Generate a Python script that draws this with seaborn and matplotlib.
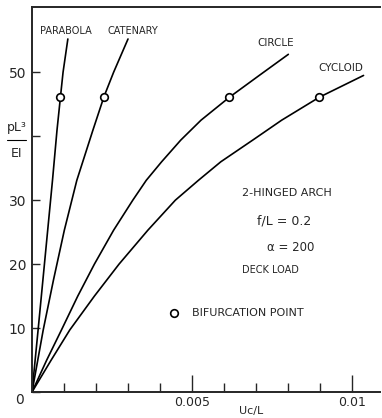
import matplotlib
matplotlib.use("Agg")
import matplotlib.pyplot as plt
import seaborn as sns
import pandas as pd
from matplotlib.ticker import MultipleLocator

# curves: (Uc/L, pL^3/EI)
parabola_x = [0, 0.00019, 0.00034, 0.00049, 0.00064, 0.00078, 0.00089, 0.00097, 0.00112]
parabola_y = [0, 9.7, 17.5, 25.3, 33.1, 40.9, 46.2, 50, 55.2]

catenary_x = [0, 0.00035, 0.00067, 0.00101, 0.0014, 0.0019, 0.00225, 0.00255, 0.003]
catenary_y = [0, 9.7, 17.5, 25.3, 33.1, 40.9, 46.2, 50, 55.2]

circle_x = [0, 0.00046, 0.00092, 0.00143, 0.00195, 0.00255, 0.00315, 0.00357,
            0.00405, 0.00465, 0.00528, 0.00617, 0.0071, 0.00801]
circle_y = [0, 5, 9.7, 15, 20, 25.3, 30, 33.1, 36, 39.4, 42.5, 46.1, 49.5, 52.8]

cycloid_x = [0, 0.0006, 0.00118, 0.00195, 0.00272, 0.00362, 0.00448, 0.0052,
             0.0059, 0.0069, 0.0078, 0.00898, 0.01036]
cycloid_y = [0, 5, 9.7, 15, 20, 25.3, 30, 33.1, 36, 39.4, 42.5, 46.1, 49.5]

# bifurcation points
bif_x = [0.00089, 0.00225, 0.00617, 0.00898]
bif_y = [46.2, 46.2, 46.1, 46.1]

curve_names = ["PARABOLA", "CATENARY", "CIRCLE", "CYCLOID"]
yticks = [0, 10, 20, 30, 40, 50]
ytick_labels = ["", "10", "20", "30", "", "50"]

sns.set_style("ticks")
plt.rcParams["font.family"] = ["DejaVu Sans"]

fig = plt.figure(figsize=(3.82, 4.18), dpi=100)
ax = fig.add_axes([0.0838, 0.0622, 0.911, 0.921])

for xs, ys in [(parabola_x, parabola_y), (catenary_x, catenary_y),
               (circle_x, circle_y), (cycloid_x, cycloid_y)]:
    df = pd.DataFrame({"x": xs, "y": ys})
    sns.lineplot(data=df, x="x", y="y", sort=False, color="black", lw=1.2, ax=ax)

sns.scatterplot(x=bif_x, y=bif_y, ax=ax, marker="o", s=30, facecolor="white",
                edgecolor="black", linewidth=1.2, zorder=5, label="BIFURCATION POINT")

ax.set_xlim(0, 0.010875)
ax.set_ylim(0, 60.2)
ax.set_xlabel("")
ax.set_ylabel("")

# curve labels
ax.text(0.00025, 56.5, curve_names[0], fontsize=7, ha="left", va="center")
ax.text(0.00235, 56.5, curve_names[1], fontsize=7, ha="left", va="center")
ax.text(0.007625, 54.5, curve_names[2], fontsize=7.5, ha="center", va="center")
ax.text(0.00966, 50.6, curve_names[3], fontsize=7.5, ha="center", va="center")

# annotations
ax.text(0.00656, 31.1, "2-HINGED ARCH", fontsize=8, ha="left", va="center")
ax.text(0.00703, 26.8, "f/L = 0.2", fontsize=9, ha="left", va="center")
ax.text(0.00734, 22.6, "α = 200", fontsize=8.5, ha="left", va="center")
ax.text(0.00656, 19.0, "DECK LOAD", fontsize=7, ha="left", va="center")

ax.legend(loc="center left", bbox_to_anchor=(0.348, 0.205), frameon=False,
          handletextpad=0.6, fontsize=8, markerscale=1.0)

# ticks
ax.set_xticks([0.005, 0.01])
ax.set_xticklabels(["0.005", "0.01"])
ax.xaxis.set_minor_locator(MultipleLocator(0.001))
ax.set_yticks(yticks)
ax.set_yticklabels(ytick_labels)
ax.tick_params(axis="x", which="major", direction="in", length=12, width=1, labelsize=9, pad=3)
ax.tick_params(axis="x", which="minor", direction="in", length=6.5, width=1)
ax.tick_params(axis="y", which="major", direction="in", length=6, width=1, labelsize=10, pad=4)

ax.text(-0.035, -0.02, "0", transform=ax.transAxes, fontsize=10, ha="center", va="center")
ax.text(0.63, -0.05, "Uc/L", transform=ax.transAxes, fontsize=8, ha="center", va="center")
# y-axis label as a fraction
ytr = ax.get_yaxis_transform()
ax.text(-0.045, 41.3, "pL³", fontsize=9, ha="center", va="center", transform=ytr)
ax.text(-0.045, 37.3, "EI", fontsize=9, ha="center", va="center", transform=ytr)
ax.plot([-0.072, -0.016], [39.4, 39.4], color="black", lw=0.8,
        transform=ytr, clip_on=False)

sns.despine(ax=ax, top=False, right=True)
for s in ["left", "bottom", "top"]:
    ax.spines[s].set_linewidth(1.4)

fig.savefig("out.png", dpi=100)
